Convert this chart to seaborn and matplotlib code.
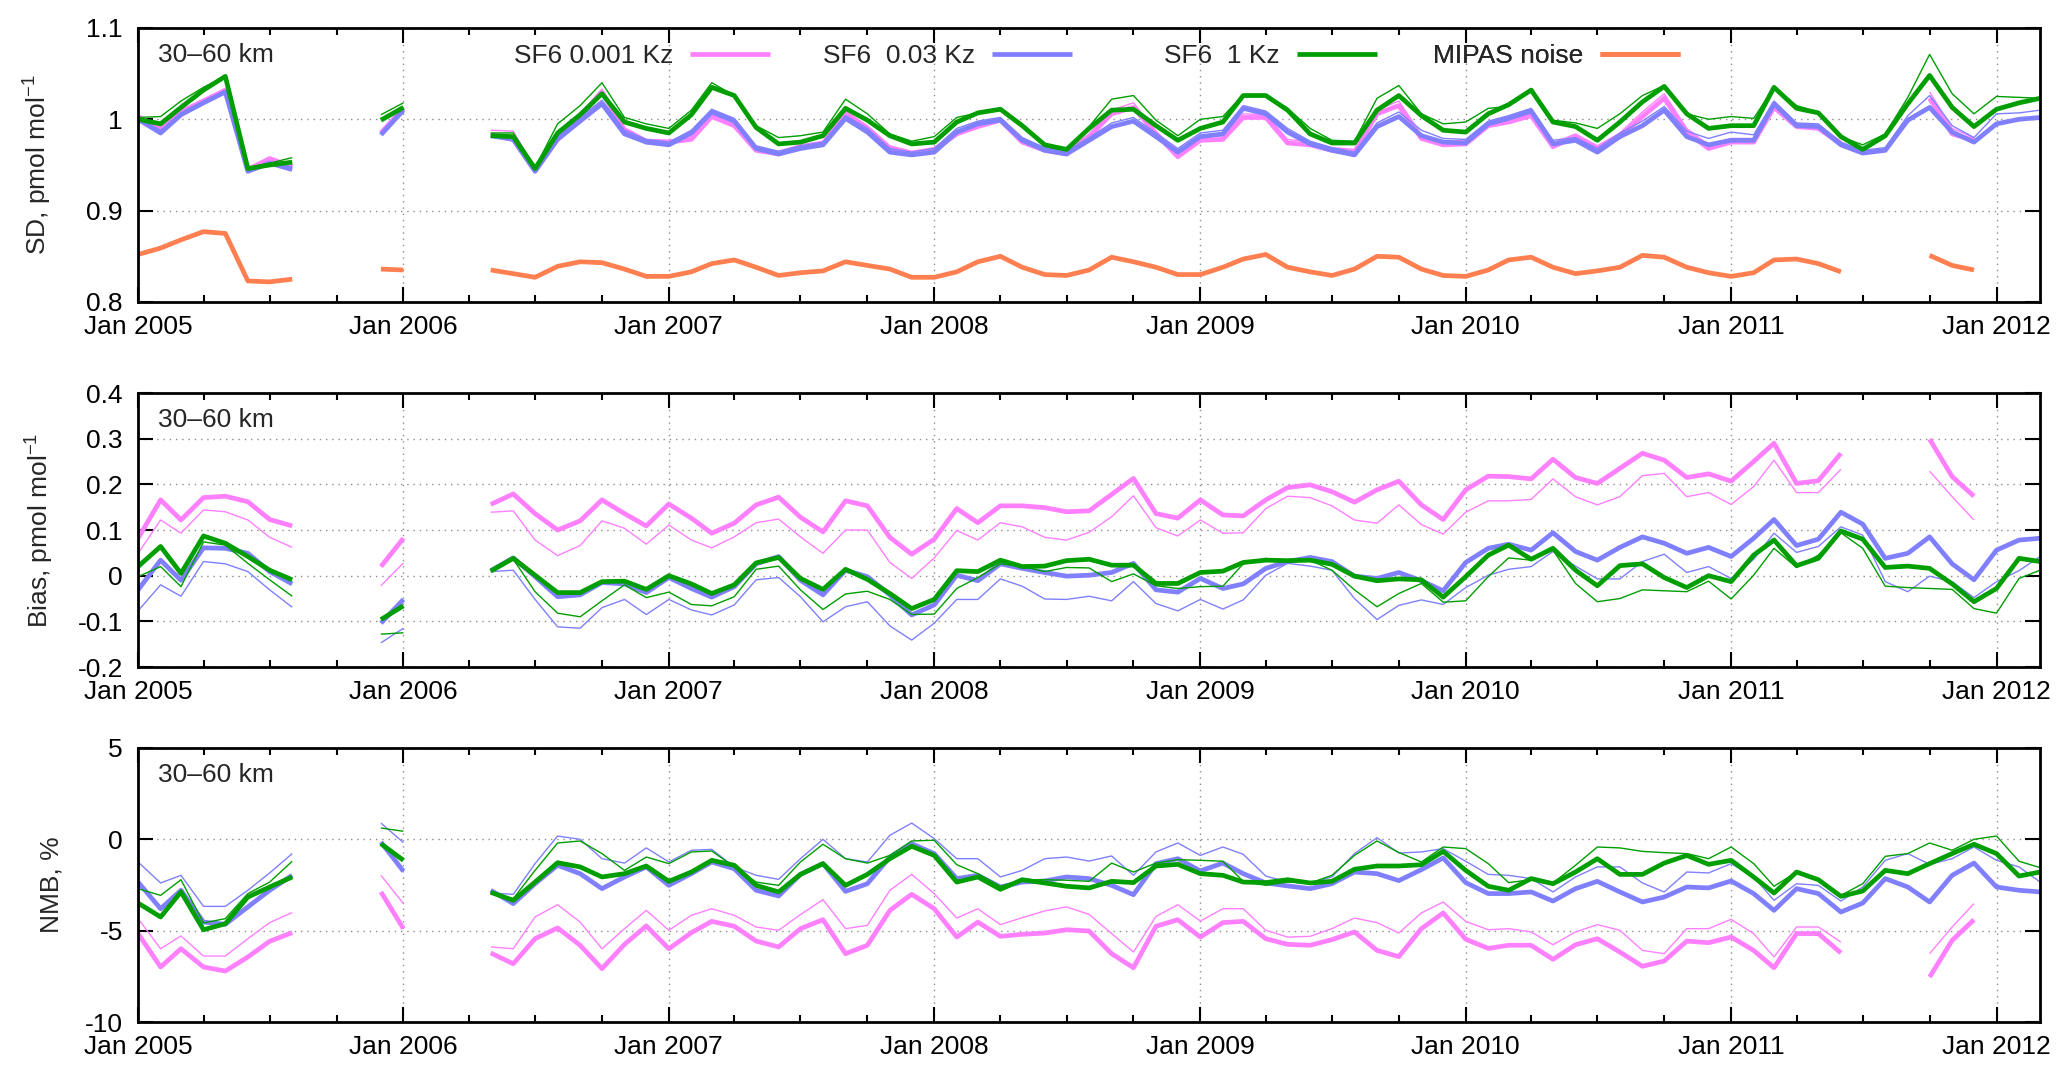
import numpy as np
import pandas as pd
import matplotlib
matplotlib.use('Agg')
import matplotlib.pyplot as plt
import matplotlib.dates as mdates
from matplotlib.ticker import FuncFormatter, MultipleLocator
from matplotlib.lines import Line2D
import seaborn as sns

sns.set_style('ticks')
plt.rcParams['font.family'] = ['Liberation Sans', 'DejaVu Sans']
plt.rcParams['mathtext.default'] = 'regular'
plt.rcParams['axes.unicode_minus'] = False

# monthly values, Jan 2005 - Mar 2012
months = pd.date_range('2005-01-01', '2012-03-01', freq='MS')
N = None
gap = [N, N, N]

# ---------------- SD, pmol/mol ----------------
sd_pink = ([1.003, 0.990, 1.008, 1.020, 1.032, 0.945, 0.957, 0.948] + gap + [0.985, 1.012] + gap +
           [0.983, 0.978, 0.944, 0.980, 1.003, 1.030, 0.988, 0.975] +
           [0.975, 0.978, 1.003, 0.993, 0.966, 0.962, 0.970, 0.973, 1.006, 0.990, 0.968, 0.962] +
           [0.966, 0.984, 0.992, 0.999, 0.975, 0.966, 0.962, 0.981, 1.006, 1.013, 0.984, 0.959] +
           [0.977, 0.978, 1.002, 1.002, 0.974, 0.972, 0.966, 0.964, 1.006, 1.015, 0.979, 0.972] +
           [0.973, 0.993, 0.997, 1.004, 0.970, 0.981, 0.968, 0.981, 1.003, 1.023, 0.986, 0.968] +
           [0.975, 0.975, 1.013, 0.992, 0.990, 0.973, N, N, N, 1.023, 0.984, 0.977] + gap)
sd_pink_thin = ([1.004, 0.991, 1.010, 1.022, 1.033, 0.946, 0.955, 0.950] + gap + [0.987, 1.013] + gap +
                [0.988, 0.987, 0.946, 0.983, 1.006, 1.033, 0.991, 0.978] +
                [0.977, 0.981, 1.006, 0.996, 0.969, 0.965, 0.972, 0.976, 1.009, 0.993, 0.971, 0.965] +
                [0.969, 0.987, 0.995, 1.002, 0.978, 0.969, 0.965, 0.984, 1.010, 1.018, 0.987, 0.963] +
                [0.980, 0.982, 1.006, 1.005, 0.978, 0.975, 0.969, 0.967, 1.010, 1.020, 0.983, 0.976] +
                [0.977, 0.996, 1.000, 1.007, 0.974, 0.984, 0.971, 0.985, 1.008, 1.028, 0.990, 0.972] +
                [0.979, 0.979, 1.016, 0.995, 0.993, 0.976, N, N, N, 1.030, 0.990, 0.980] + gap)
sd_blue = ([1.000, 0.985, 1.005, 1.018, 1.030, 0.943, 0.952, 0.945] + gap + [0.983, 1.010] + gap +
           [0.982, 0.978, 0.943, 0.978, 0.998, 1.017, 0.984, 0.975] +
           [0.972, 0.985, 1.008, 0.998, 0.968, 0.962, 0.968, 0.972, 1.001, 0.986, 0.964, 0.961] +
           [0.964, 0.986, 0.995, 0.999, 0.977, 0.966, 0.962, 0.977, 0.992, 0.998, 0.981, 0.964] +
           [0.981, 0.984, 1.012, 1.006, 0.986, 0.973, 0.966, 0.961, 0.992, 1.003, 0.982, 0.975] +
           [0.974, 0.995, 1.001, 1.009, 0.973, 0.977, 0.964, 0.981, 0.993, 1.010, 0.981, 0.972] +
           [0.977, 0.977, 1.017, 0.993, 0.992, 0.972, 0.963, 0.966, 0.999, 1.013, 0.986, 0.975] +
           [0.995, 1.000, 1.002])
sd_blue_thin = ([1.001, 0.988, 1.007, 1.020, 1.031, 0.944, 0.951, 0.948] + gap + [0.985, 1.011] + gap +
                [0.984, 0.981, 0.945, 0.982, 1.002, 1.021, 0.988, 0.978] +
                [0.975, 0.988, 1.011, 1.001, 0.971, 0.965, 0.971, 0.975, 1.004, 0.990, 0.968, 0.964] +
                [0.968, 0.990, 0.998, 1.002, 0.980, 0.969, 0.965, 0.980, 0.996, 1.002, 0.985, 0.968] +
                [0.985, 0.988, 1.015, 1.009, 0.990, 0.976, 0.969, 0.964, 0.996, 1.008, 0.988, 0.979] +
                [0.978, 0.998, 1.004, 1.012, 0.977, 0.980, 0.968, 0.985, 0.998, 1.014, 0.987, 0.979] +
                [0.986, 0.983, 1.020, 0.996, 0.995, 0.975, 0.966, 0.969, 1.004, 1.026, 0.993, 0.980] +
                [1.006, 1.007, 1.010])
sd_green = ([1.000, 0.995, 1.013, 1.032, 1.047, 0.946, 0.950, 0.953] + gap + [0.999, 1.013] + gap +
            [0.982, 0.981, 0.946, 0.985, 1.005, 1.028, 0.997, 0.990] +
            [0.985, 1.005, 1.035, 1.026, 0.991, 0.973, 0.975, 0.982, 1.012, 0.999, 0.982, 0.973] +
            [0.975, 0.997, 1.007, 1.011, 0.993, 0.972, 0.967, 0.990, 1.010, 1.011, 0.993, 0.977] +
            [0.990, 0.997, 1.026, 1.026, 1.010, 0.984, 0.974, 0.974, 1.010, 1.026, 1.004, 0.988] +
            [0.986, 1.006, 1.016, 1.032, 0.997, 0.992, 0.977, 0.997, 1.019, 1.036, 1.006, 0.990] +
            [0.993, 0.993, 1.035, 1.012, 1.007, 0.981, 0.967, 0.982, 1.017, 1.048, 1.013, 0.992] +
            [1.011, 1.018, 1.023])
sd_green_thin = ([1.002, 1.003, 1.020, 1.035, 1.047, 0.947, 0.952, 0.958] + gap + [1.005, 1.018] + gap +
                 [0.985, 0.985, 0.947, 0.995, 1.015, 1.040, 1.002, 0.995] +
                 [0.990, 1.010, 1.040, 1.026, 0.993, 0.980, 0.982, 0.986, 1.022, 1.006, 0.984, 0.976] +
                 [0.981, 1.002, 1.007, 1.012, 0.995, 0.973, 0.968, 0.992, 1.022, 1.026, 0.999, 0.982] +
                 [1.000, 1.003, 1.027, 1.027, 1.012, 0.990, 0.977, 0.976, 1.023, 1.037, 1.006, 0.995] +
                 [0.997, 1.012, 1.014, 1.033, 0.999, 0.996, 0.990, 1.006, 1.026, 1.037, 1.006, 1.000] +
                 [1.003, 1.001, 1.035, 1.015, 1.008, 0.981, 0.972, 0.984, 1.024, 1.071, 1.028, 1.006] +
                 [1.025, 1.024, 1.023])
sd_noise = ([0.852, 0.859, 0.868, 0.877, 0.875, 0.823, 0.822, 0.825] + gap + [0.836, 0.835] + gap +
            [0.835, 0.831, 0.827, 0.839, 0.844, 0.843, 0.836, 0.828] +
            [0.828, 0.833, 0.842, 0.846, 0.838, 0.829, 0.832, 0.834, 0.844, 0.840, 0.836, 0.827] +
            [0.827, 0.833, 0.844, 0.850, 0.838, 0.830, 0.829, 0.835, 0.849, 0.844, 0.838, 0.830] +
            [0.830, 0.838, 0.847, 0.852, 0.838, 0.833, 0.829, 0.836, 0.850, 0.849, 0.836, 0.829] +
            [0.828, 0.835, 0.846, 0.849, 0.838, 0.831, 0.834, 0.838, 0.851, 0.849, 0.838, 0.832] +
            [0.828, 0.832, 0.846, 0.847, 0.842, 0.833, N, N, N, 0.851, 0.840, 0.835] + gap)

# ---------------- Bias, pmol/mol ----------------
bias_pink = ([0.082, 0.166, 0.122, 0.171, 0.174, 0.162, 0.123, 0.109] + gap + [0.020, 0.082] + gap +
             [0.156, 0.179, 0.136, 0.100, 0.120, 0.166, 0.136, 0.109] +
             [0.157, 0.126, 0.093, 0.115, 0.155, 0.172, 0.128, 0.096, 0.164, 0.153, 0.084, 0.047] +
             [0.080, 0.147, 0.116, 0.153, 0.153, 0.149, 0.140, 0.142, 0.178, 0.213, 0.136, 0.126] +
             [0.166, 0.133, 0.131, 0.166, 0.193, 0.199, 0.184, 0.161, 0.188, 0.207, 0.155, 0.123] +
             [0.188, 0.218, 0.217, 0.212, 0.255, 0.215, 0.202, 0.235, 0.268, 0.253, 0.215, 0.223] +
             [0.207, 0.250, 0.290, 0.202, 0.208, 0.268, N, N, N, 0.299, 0.217, 0.174] + gap)
bias_pink_thin = ([0.049, 0.122, 0.093, 0.144, 0.140, 0.122, 0.084, 0.062] + gap + [-0.022, 0.028] + gap +
                  [0.139, 0.142, 0.078, 0.044, 0.066, 0.120, 0.104, 0.069] +
                  [0.111, 0.078, 0.061, 0.085, 0.116, 0.124, 0.085, 0.049, 0.100, 0.100, 0.029, -0.006] +
                  [0.039, 0.099, 0.078, 0.116, 0.107, 0.084, 0.078, 0.095, 0.129, 0.175, 0.105, 0.087] +
                  [0.122, 0.093, 0.094, 0.147, 0.174, 0.171, 0.153, 0.122, 0.115, 0.155, 0.112, 0.091] +
                  [0.139, 0.164, 0.164, 0.167, 0.212, 0.173, 0.155, 0.173, 0.219, 0.224, 0.173, 0.182] +
                  [0.156, 0.195, 0.253, 0.182, 0.182, 0.233, N, N, N, 0.229, 0.173, 0.122] + gap)
bias_blue = ([-0.031, 0.034, -0.010, 0.061, 0.060, 0.049, 0.009, -0.018] + gap + [-0.104, -0.052] + gap +
             [0.011, 0.039, -0.002, -0.046, -0.042, -0.015, -0.018, -0.037] +
             [-0.004, -0.028, -0.047, -0.024, 0.026, 0.042, -0.010, -0.042, 0.012, -0.002, -0.042, -0.086] +
             [-0.064, 0.001, -0.011, 0.026, 0.016, 0.007, -0.001, 0.001, 0.007, 0.027, -0.031, -0.036] +
             [-0.006, -0.028, -0.018, 0.016, 0.031, 0.040, 0.031, -0.001, -0.006, 0.007, -0.011, -0.033] +
             [0.029, 0.060, 0.069, 0.056, 0.094, 0.053, 0.034, 0.062, 0.085, 0.071, 0.049, 0.062] +
             [0.042, 0.082, 0.123, 0.066, 0.080, 0.139, 0.113, 0.038, 0.049, 0.085, 0.026, -0.009] +
             [0.056, 0.078, 0.082])
bias_blue_thin = ([-0.077, -0.020, -0.045, 0.031, 0.026, 0.009, -0.031, -0.069] + gap + [-0.147, -0.115] + gap +
                  [0.009, 0.012, -0.052, -0.112, -0.115, -0.070, -0.052, -0.085] +
                  [-0.052, -0.075, -0.086, -0.064, -0.009, -0.004, -0.046, -0.101, -0.068, -0.057, -0.110, -0.141] +
                  [-0.104, -0.052, -0.052, -0.007, -0.023, -0.051, -0.052, -0.045, -0.055, -0.013, -0.061, -0.077] +
                  [-0.052, -0.073, -0.053, 0.001, 0.027, 0.021, 0.012, -0.050, -0.096, -0.065, -0.053, -0.063] +
                  [-0.026, 0.001, 0.014, 0.020, 0.053, 0.021, -0.007, -0.007, 0.031, 0.047, 0.007, 0.020] +
                  [-0.006, 0.036, 0.093, 0.051, 0.064, 0.107, 0.089, -0.013, -0.035, -0.001, -0.013, -0.048] +
                  [-0.013, 0.011, 0.042])
bias_green = ([0.020, 0.064, 0.005, 0.087, 0.071, 0.042, 0.012, -0.009] + gap + [-0.096, -0.066] + gap +
              [0.010, 0.038, 0.001, -0.037, -0.037, -0.013, -0.012, -0.030] +
              [0.000, -0.018, -0.039, -0.020, 0.028, 0.040, -0.006, -0.030, 0.014, -0.008, -0.039, -0.072] +
              [-0.052, 0.011, 0.009, 0.034, 0.020, 0.021, 0.033, 0.036, 0.023, 0.023, -0.017, -0.017] +
              [0.007, 0.010, 0.029, 0.034, 0.033, 0.034, 0.025, -0.001, -0.011, -0.007, -0.009, -0.047] +
              [-0.002, 0.045, 0.067, 0.036, 0.060, 0.012, -0.022, 0.022, 0.026, -0.004, -0.026, 0.000] +
              [-0.013, 0.045, 0.078, 0.022, 0.038, 0.098, 0.080, 0.018, 0.021, 0.016, -0.018, -0.057] +
              [-0.028, 0.038, 0.031])
bias_green_thin = ([-0.002, 0.020, -0.024, 0.074, 0.067, 0.027, -0.009, -0.045] + gap + [-0.128, -0.125] + gap +
                   [0.010, 0.036, -0.035, -0.082, -0.090, -0.055, -0.020, -0.048] +
                   [-0.036, -0.063, -0.066, -0.046, 0.014, 0.021, -0.031, -0.074, -0.040, -0.034, -0.052, -0.085] +
                   [-0.084, -0.028, -0.004, 0.026, 0.020, 0.009, 0.018, 0.017, -0.013, 0.004, -0.022, -0.028] +
                   [-0.024, -0.023, 0.026, 0.038, 0.031, 0.034, 0.012, -0.031, -0.068, -0.039, -0.017, -0.058] +
                   [-0.055, -0.002, 0.039, 0.034, 0.056, -0.017, -0.057, -0.050, -0.031, -0.033, -0.035, -0.012] +
                   [-0.051, 0.001, 0.060, 0.018, 0.045, 0.094, 0.060, -0.023, -0.026, -0.028, -0.030, -0.072] +
                   [-0.082, -0.006, 0.012])

# ---------------- NMB, % ----------------
nmb_pink = ([-5.16, -6.99, -5.99, -6.99, -7.21, -6.44, -5.58, -5.11] + gap + [-2.88, -4.89] + gap +
            [-6.22, -6.81, -5.44, -4.85, -5.80, -7.08, -5.75, -4.74] +
            [-5.99, -5.11, -4.49, -4.76, -5.57, -5.89, -4.89, -4.40, -6.26, -5.80, -3.89, -3.01] +
            [-3.80, -5.35, -4.53, -5.31, -5.20, -5.13, -4.95, -5.02, -6.26, -7.03, -4.76, -4.40] +
            [-5.35, -4.56, -4.49, -5.44, -5.75, -5.80, -5.49, -5.07, -6.08, -6.42, -4.89, -4.03] +
            [-5.47, -5.97, -5.80, -5.80, -6.57, -5.77, -5.44, -6.17, -6.95, -6.66, -5.57, -5.66] +
            [-5.35, -6.08, -7.03, -5.16, -5.16, -6.22, N, N, N, -7.54, -5.53, -4.40] + gap)
nmb_pink_thin = ([-4.34, -5.99, -5.29, -6.39, -6.39, -5.44, -4.56, -4.01] + gap + [-1.97, -3.52] + gap +
                 [-5.89, -5.99, -4.25, -3.58, -4.53, -5.99, -4.89, -3.89] +
                 [-4.98, -4.16, -3.80, -4.16, -4.80, -4.98, -4.12, -3.30, -4.89, -4.71, -2.79, -1.92] +
                 [-2.97, -4.31, -3.80, -4.67, -4.29, -3.92, -3.70, -4.11, -5.16, -6.17, -4.22, -3.58] +
                 [-4.47, -3.80, -3.80, -4.98, -5.35, -5.31, -4.89, -4.31, -4.56, -5.13, -4.03, -3.43] +
                 [-4.49, -4.95, -4.89, -5.07, -5.77, -5.07, -4.67, -4.98, -6.08, -6.26, -4.89, -4.89] +
                 [-4.38, -5.16, -6.44, -4.80, -4.80, -5.62, N, N, N, -6.26, -4.80, -3.52] + gap)
nmb_blue = ([-2.34, -3.80, -2.79, -4.53, -4.65, -3.70, -2.79, -1.97] + gap + [-0.15, -1.75] + gap +
            [-2.79, -3.52, -2.43, -1.42, -1.88, -2.70, -2.06, -1.51] +
            [-2.52, -1.88, -1.24, -1.61, -2.79, -3.10, -1.92, -1.33, -2.85, -2.43, -0.97, -0.24] +
            [-0.78, -2.15, -1.97, -2.61, -2.34, -2.28, -2.06, -2.15, -2.52, -3.03, -1.33, -1.06] +
            [-1.73, -1.30, -1.88, -2.39, -2.55, -2.70, -2.43, -1.79, -1.88, -2.26, -1.66, -1.02] +
            [-2.37, -2.97, -2.97, -2.88, -3.38, -2.70, -2.30, -2.88, -3.43, -3.16, -2.61, -2.66] +
            [-2.28, -2.97, -3.89, -2.70, -2.97, -3.98, -3.49, -2.15, -2.61, -3.43, -1.97, -1.30] +
            [-2.61, -2.79, -2.88])
nmb_blue_thin = ([-1.24, -2.39, -1.97, -3.67, -3.67, -2.79, -1.84, -0.78] + gap + [0.89, -0.18] + gap +
                 [-2.94, -3.01, -1.33, 0.18, 0.00, -1.06, -1.30, -0.47] +
                 [-1.24, -0.60, -0.55, -1.51, -1.97, -2.19, -1.06, 0.00, -1.06, -1.24, 0.22, 0.89] +
                 [0.04, -1.06, -1.06, -2.06, -1.70, -1.06, -0.97, -1.19, -0.91, -1.97, -0.69, -0.20] +
                 [-0.88, -0.42, -0.82, -2.01, -2.34, -2.39, -2.06, -0.78, 0.09, -0.75, -0.69, -0.51] +
                 [-1.20, -1.92, -1.97, -2.15, -2.88, -2.06, -1.51, -1.51, -2.39, -2.88, -1.79, -1.84] +
                 [-1.33, -2.06, -3.34, -2.43, -2.52, -3.38, -2.61, -1.15, -0.78, -1.37, -1.06, -0.42] +
                 [-1.15, -1.51, -2.34])
nmb_green = ([-3.49, -4.25, -2.88, -4.95, -4.62, -3.16, -2.61, -2.06] + gap + [-0.24, -1.15] + gap +
             [-2.90, -3.34, -2.34, -1.28, -1.51, -2.06, -1.88, -1.46] +
             [-2.30, -1.79, -1.15, -1.42, -2.52, -2.88, -1.92, -1.33, -2.52, -1.92, -1.06, -0.38] +
             [-0.88, -2.34, -2.06, -2.74, -2.21, -2.39, -2.57, -2.66, -2.30, -2.37, -1.46, -1.37] +
             [-1.88, -1.97, -2.34, -2.37, -2.21, -2.39, -2.30, -1.64, -1.46, -1.46, -1.39, -0.66] +
             [-1.70, -2.57, -2.79, -2.15, -2.43, -1.79, -1.06, -1.92, -1.92, -1.30, -0.88, -1.37] +
             [-1.15, -2.06, -2.94, -1.79, -2.21, -3.12, -2.83, -1.70, -1.88, -1.33, -0.78, -0.27] +
             [-0.78, -2.01, -1.79])
nmb_green_thin = ([-2.70, -3.07, -2.21, -4.58, -4.34, -2.97, -2.34, -1.20] + gap + [0.62, 0.44] + gap +
                  [-2.90, -3.25, -1.70, -0.20, -0.09, -0.78, -1.70, -0.97] +
                  [-1.33, -0.69, -0.64, -1.51, -2.34, -2.52, -1.24, -0.27, -1.06, -1.30, -0.88, -0.09] +
                  [-0.05, -1.39, -1.88, -2.57, -2.21, -2.21, -2.24, -2.30, -1.30, -1.79, -1.30, -1.11] +
                  [-1.15, -1.20, -2.30, -2.52, -2.34, -2.39, -1.97, -0.88, -0.09, -0.72, -1.24, -0.42] +
                  [-0.51, -1.33, -2.37, -2.21, -2.39, -1.42, -0.42, -0.47, -0.66, -0.73, -0.78, -1.06] +
                  [-0.42, -1.33, -2.57, -1.79, -2.21, -3.07, -2.43, -0.93, -0.78, -0.20, -0.60, 0.00] +
                  [0.18, -1.20, -1.55])

PINK, BLUE, GREEN, CORAL = '#ff80ff', '#8080ff', '#009e00', '#ff7f50'
THICK, THIN = 3.4, 1.0


def draw(ax, values, color, lw):
    df = pd.DataFrame({'date': months, 'value': np.array(values, dtype=float)})
    df['seg'] = df['value'].isna().cumsum()
    df = df.dropna()
    sns.lineplot(data=df, x='date', y='value', units='seg', estimator=None,
                 color=color, lw=lw, ax=ax, legend=False, solid_capstyle='butt')


fig = plt.figure(figsize=(20.67, 10.75), dpi=100)
axes = [fig.add_axes([0.0668, b, 0.9202, 0.2549]) for b in (0.7191, 0.3795, 0.0493)]

panels = [
    (axes[0], [sd_pink, sd_pink_thin, sd_blue, sd_blue_thin, sd_green, sd_green_thin],
     (0.8, 1.1), 0.1, 'SD, pmol mol$^{-1}$', -0.044),
    (axes[1], [bias_pink, bias_pink_thin, bias_blue, bias_blue_thin, bias_green, bias_green_thin],
     (-0.2, 0.4), 0.1, 'Bias, pmol mol$^{-1}$', -0.043),
    (axes[2], [nmb_pink, nmb_pink_thin, nmb_blue, nmb_blue_thin, nmb_green, nmb_green_thin],
     (-10, 5), 5, 'NMB, %', -0.039),
]

fmt = FuncFormatter(lambda v, p: f'{round(v, 6) + 0.0:g}')

for ax, series, ylim, step, ylab, lx in panels:
    colors = [PINK, PINK, BLUE, BLUE, GREEN, GREEN]
    widths = [THICK, THIN, THICK, THIN, THICK, THIN]
    for vals, c, w in zip(series, colors, widths):
        draw(ax, vals, c, w)
    if ax is axes[0]:
        draw(ax, sd_noise, CORAL, THICK)

    ax.set_xlim(months[0], months[-1])
    ax.set_ylim(*ylim)
    ax.yaxis.set_major_locator(MultipleLocator(step))
    ax.yaxis.set_major_formatter(fmt)
    ax.xaxis.set_major_locator(mdates.YearLocator())
    ax.xaxis.set_major_formatter(mdates.DateFormatter('Jan %Y'))
    ax.xaxis.set_minor_locator(mdates.MonthLocator(bymonth=[4, 7, 10]))

    ax.tick_params(which='both', direction='in', top=True, right=True,
                   width=1.5, labelsize=19, colors='black')
    ax.tick_params(which='major', length=10.5)
    ax.tick_params(which='minor', length=5)
    ax.tick_params(axis='x', pad=9.5)
    ax.tick_params(axis='y', pad=11)

    ax.grid(True, which='major', color='#8c8c8c', lw=1.0, linestyle=(0, (1, 3.5)))
    ax.set_axisbelow(True)
    for s in ax.spines.values():
        s.set_linewidth(2)
        s.set_color('black')

    ax.set_xlabel('')
    ax.set_ylabel(ylab, fontsize=19)
    ax.yaxis.set_label_coords(lx, 0.5)
    ax.text(0.0105, 0.9, '30\u201360 km', transform=ax.transAxes,
            fontsize=19, ha='left', va='center')

# legend, one entry per block as in the original key
entries = [('SF6 0.001 Kz', PINK, 0.1977), ('SF6  0.03 Kz', BLUE, 0.3601),
           ('SF6  1 Kz', GREEN, 0.5394), ('MIPAS noise', CORAL, 0.6809)]
for label, c, xa in entries:
    h = Line2D([], [], color=c, lw=THICK, solid_capstyle='butt')
    leg = axes[0].legend([h], [label], loc='center left', bbox_to_anchor=(xa, 0.898),
                         frameon=False, markerfirst=False, fontsize=19,
                         handlelength=3.03, handletextpad=0.64,
                         borderpad=0, borderaxespad=0)
    axes[0].add_artist(leg)

fig.savefig('out.png', dpi=100)
